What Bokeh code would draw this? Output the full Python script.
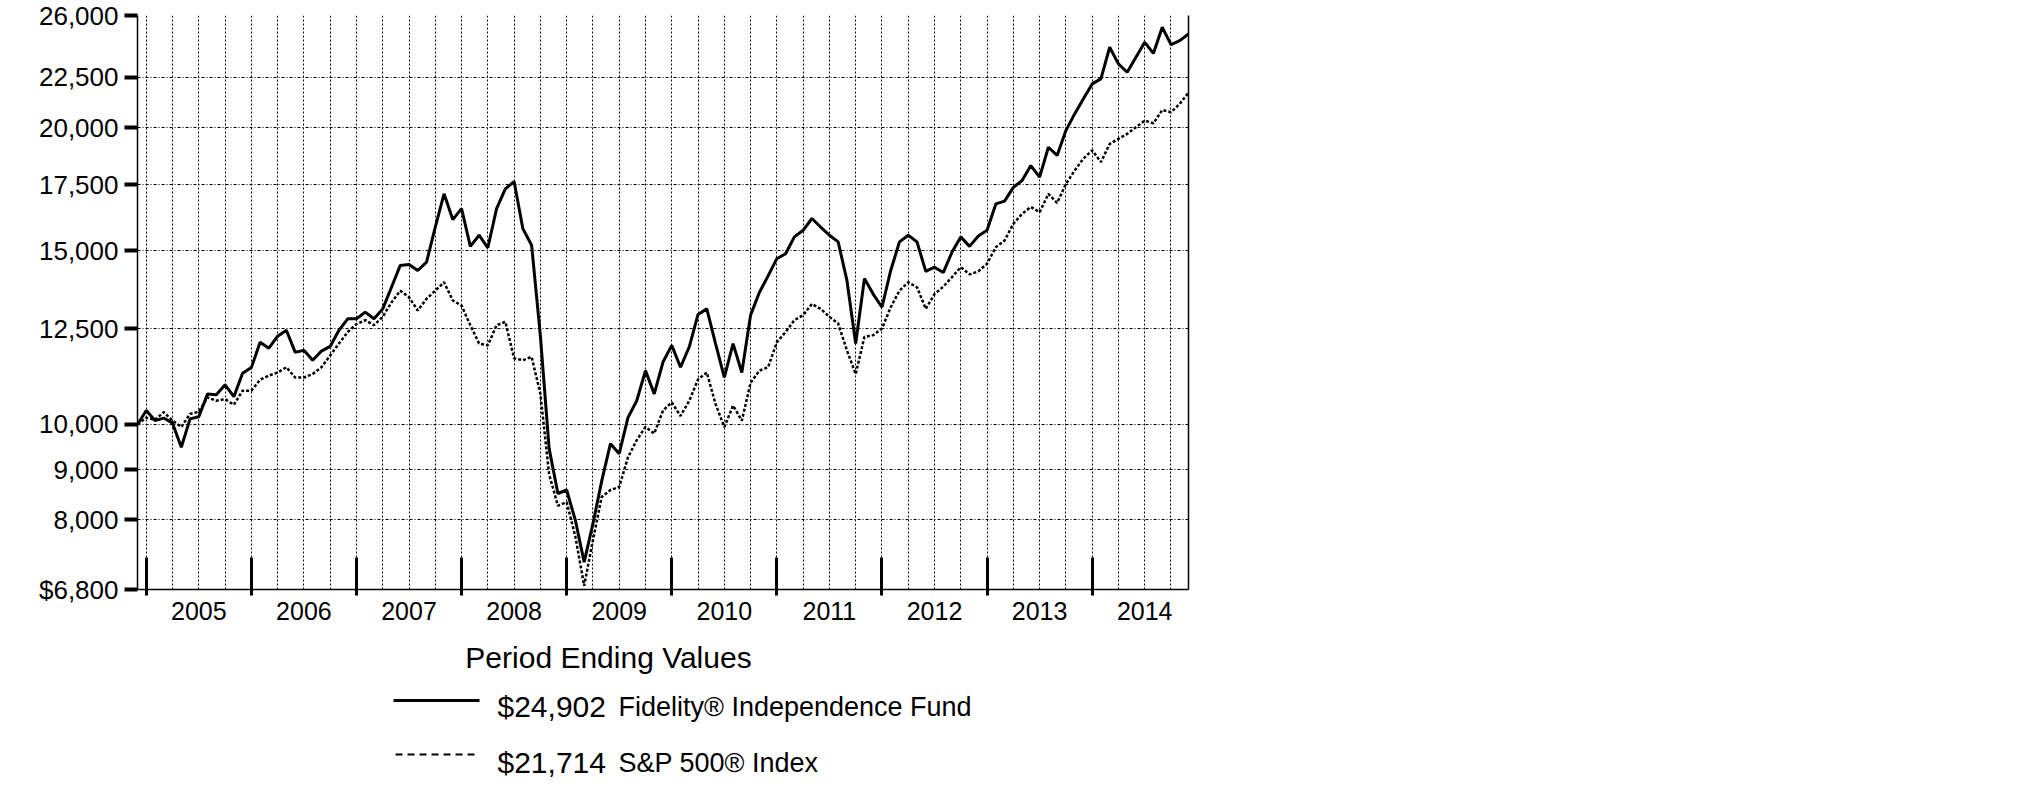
from bokeh.plotting import figure
from bokeh.models import FixedTicker, LinearAxis, Range1d, NumeralTickFormatter
from bokeh.layouts import column
from bokeh.embed import file_html
from bokeh.resources import INLINE
from bokeh.core.properties import value

FONT = "Liberation Sans"

# ---- data: month index 0 = Nov 30 2004 ... 120 = Nov 30 2014 ----
months = list(range(121))

fund = [10000, 10330, 10090, 10150, 10030, 9480, 10130, 10180, 10740, 10720,
        10970, 10670, 11270, 11420, 12120, 11950, 12290, 12460, 11840, 11890,
        11620, 11870, 12000, 12460, 12800, 12800, 13000, 12800, 13100, 13780,
        14500, 14530, 14330, 14610, 15860, 17140, 16140, 16560, 15160, 15560,
        15110, 16560, 17340, 17640, 15800, 15200, 12300, 9450, 8510, 8580,
        7990, 7250, 7930, 8760, 9560, 9340, 10160, 10570, 11340, 10740,
        11570, 12030, 11430, 11990, 12930, 13100, 12080, 11160, 12080, 11290,
        12910, 13610, 14150, 14730, 14900, 15500, 15740, 16180, 15860, 15560,
        15320, 14000, 12080, 14060, 13560, 13150, 14330, 15320, 15560, 15320,
        14300, 14440, 14260, 14960, 15500, 15160, 15530, 15740, 16740, 16850,
        17400, 17680, 18310, 17820, 19110, 18750, 19870, 20660, 21400, 22160,
        22420, 24140, 23220, 22770, 23580, 24420, 23800, 25300, 24290, 24520,
        24902]

sp500 = [10000, 10160, 10110, 10290, 10090, 9940, 10250, 10300, 10650, 10570,
         10610, 10470, 10820, 10820, 11100, 11210, 11290, 11430, 11160, 11160,
         11250, 11430, 11750, 12080, 12410, 12640, 12760, 12610, 12860, 13300,
         13670, 13460, 13050, 13410, 13670, 13940, 13360, 13200, 12610, 12080,
         12030, 12610, 12710, 11670, 11620, 11710, 10740, 8900, 8270, 8340,
         7690, 6860, 7630, 8440, 8580, 8640, 9260, 9640, 9940, 9790,
         10330, 10530, 10200, 10570, 11110, 11290, 10490, 9940, 10450, 10090,
         11020, 11340, 11430, 12120, 12410, 12760, 12910, 13250, 13100, 12860,
         12660, 11890, 11250, 12270, 12320, 12510, 13150, 13670, 13940, 13780,
         13100, 13560, 13800, 14110, 14440, 14200, 14300, 14560, 15130, 15370,
         15980, 16360, 16620, 16420, 17140, 16780, 17540, 18100, 18610, 18970,
         18460, 19260, 19490, 19720, 20030, 20340, 20210, 20850, 20740, 21150,
         21714]

year_labels = ["2005", "2006", "2007", "2008", "2009",
               "2010", "2011", "2012", "2013", "2014"]
year_label_months = [7, 19, 31, 43, 55, 67, 79, 91, 103, 115]
year_boundary_months = [1, 13, 25, 37, 49, 61, 73, 85, 97, 109]
quarter_grid_months = [1 + 3 * i for i in range(40)]

y_ticks = [6800, 8000, 9000, 10000, 12500, 15000, 17500, 20000, 22500, 26000]
y_first_label = "$6,800"   # the other tick labels are formatted as 0,0

legend_title = "Period Ending Values"
legend_values = ["$24,902", "$21,714"]
legend_names = ["Fidelity\u00ae Independence Fund", "S&P 500\u00ae Index"]

# ---- chart ----
FRAME_L, FRAME_T, FRAME_W, FRAME_H, BORDER_B = 137, 15, 1051, 574, 45

p1 = figure(frame_width=FRAME_W, frame_height=FRAME_H,
            x_range=Range1d(0, 120), y_range=Range1d(6800, 26000),
            y_axis_type="log", output_backend="svg", toolbar_location=None,
            min_border_left=FRAME_L, min_border_right=820,
            min_border_top=FRAME_T, min_border_bottom=BORDER_B,
            outline_line_color=None)

xa = p1.xaxis[0]
xa.ticker = FixedTicker(ticks=year_label_months, minor_ticks=year_boundary_months)
xa.major_label_overrides = {m: lab for m, lab in zip(year_label_months, year_labels)}
xa.major_tick_in = 0
xa.major_tick_out = 0
xa.minor_tick_in = 32
xa.minor_tick_out = 6
xa.minor_tick_line_width = 3
xa.minor_tick_line_color = "black"
xa.axis_line_width = 1.5
xa.axis_line_color = "black"
xa.major_label_text_font = FONT
xa.major_label_text_font_size = "25px"
xa.major_label_text_color = "black"
xa.major_label_standoff = 6

ya = p1.yaxis[0]
ya.ticker = FixedTicker(ticks=y_ticks)
ya.formatter = NumeralTickFormatter(format="0,0")
ya.major_label_overrides = {y_ticks[0]: y_first_label}
ya.major_tick_in = 0
ya.major_tick_out = 13
ya.major_tick_line_width = 4
ya.major_tick_line_color = "black"
ya.minor_tick_in = 0
ya.minor_tick_out = 0
ya.axis_line_width = 1.5
ya.axis_line_color = "black"
ya.major_label_standoff = 6
ya.major_label_text_font = FONT
ya.major_label_text_color = "black"
ya.major_label_text_font_size = "26px"

right_border = LinearAxis(ticker=FixedTicker(ticks=[]),
                          major_label_text_font_size="0px",
                          major_tick_in=0, major_tick_out=0,
                          minor_tick_in=0, minor_tick_out=0,
                          axis_line_width=1.5, axis_line_color="black")
p1.add_layout(right_border, "right")

p1.xgrid.ticker = FixedTicker(ticks=quarter_grid_months)
p1.ygrid.ticker = FixedTicker(ticks=y_ticks[1:-1])
p1.xgrid.grid_line_dash = "2 2"
p1.ygrid.grid_line_dash = "3 2 1 2"
for g in (p1.xgrid, p1.ygrid):
    g.grid_line_color = "black"
    g.grid_line_width = 1
    g.grid_line_alpha = 1.0

p1.line(months, sp500, line_color="black", line_width=2.5, line_dash="3 2")
p1.line(months, fund, line_color="black", line_width=3)

# ---- legend panel (its frame is aligned under the chart frame; x in page px) ----
p2 = figure(frame_width=FRAME_W, frame_height=160,
            x_range=Range1d(FRAME_L, FRAME_L + FRAME_W), y_range=Range1d(160, 0),
            output_backend="svg", toolbar_location=None,
            x_axis_location=None, y_axis_location=None,
            min_border=0, min_border_left=FRAME_L, min_border_right=820,
            outline_line_color=None)
p2.grid.visible = False

p2.text(x=[608], y=[22.5], text=[legend_title], text_font=value(FONT),
        text_font_size=value("30px"), text_align="center",
        text_baseline="middle", text_color="black")

p2.line([393, 479], [66, 66], line_color="black", line_width=3)
p2.line([395, 474], [120, 120], line_color="black", line_width=2, line_dash="7 5")

p2.text(x=[497, 497], y=[71.5, 127.5], text=legend_values, text_font=value(FONT),
        text_font_size=value("30px"), text_align="left",
        text_baseline="middle", text_color="black")
p2.text(x=[618, 618], y=[72.5, 128.5], text=legend_names, text_font=value(FONT),
        text_font_size=value("27px"), text_align="left",
        text_baseline="middle", text_color="black")

layout = column(p1, p2)
open("out.html", "w").write(file_html(layout, INLINE))
